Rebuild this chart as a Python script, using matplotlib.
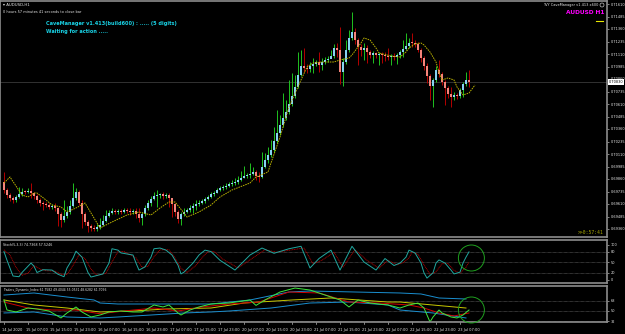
import matplotlib
matplotlib.use("Agg")
import matplotlib.pyplot as plt
from matplotlib.patches import Ellipse, Circle

# ---------------- data (AUDUSD H1) ----------------
first_open = 0.6983
closes = [0.6975,0.6970,0.6967,0.6965,0.6968,0.6971,0.6973,0.6973,0.6974,0.6972,
          0.6969,0.6965,0.6962,0.6961,0.6960,0.6958,0.6959,0.6957,0.6951,0.6945,
          0.6949,0.6953,0.6959,0.6967,0.6973,0.6962,0.6951,0.6943,0.6939,0.6937,
          0.6936,0.6938,0.6940,0.6944,0.6949,0.6952,0.6954,0.6953,0.6954,0.6953,
          0.6955,0.6954,0.6953,0.6954,0.6951,0.6947,0.6951,0.6957,0.6962,0.6966,
          0.6969,0.6970,0.6971,0.6969,0.6970,0.6967,0.6961,0.6953,0.6946,0.6951,
          0.6953,0.6955,0.6957,0.6959,0.6961,0.6962,0.6964,0.6966,0.6968,0.6971,
          0.6972,0.6975,0.6977,0.6978,0.6979,0.6981,0.6982,0.6983,0.6985,0.6987,
          0.6989,0.6990,0.6991,0.6993,0.6989,0.6988,0.6998,0.7005,0.7010,0.7015,
          0.7024,0.7032,0.7040,0.7047,0.7053,0.7061,0.7069,0.7078,0.7090,0.7099,
          0.7097,0.7096,0.7099,0.7101,0.7103,0.7100,0.7103,0.7105,0.7106,0.7109,
          0.7117,0.7115,0.7093,0.7103,0.7115,0.7127,0.7133,0.7125,0.7118,0.7115,
          0.7117,0.7113,0.7110,0.7112,0.7110,0.7111,0.7110,0.7109,0.7108,0.7109,
          0.7108,0.7110,0.7113,0.7116,0.7119,0.7122,0.7122,0.7121,0.7115,0.7107,
          0.7099,0.7089,0.7079,0.7085,0.7095,0.7091,0.7083,0.7077,0.7071,0.7068,
          0.7070,0.7069,0.7075,0.7081,0.7085,0.7083]
highs = [0.6993,0.6977,0.6972,0.6969,0.6970,0.6978,0.6977,0.6975,0.6977,0.6982,
         0.6973,0.6971,0.6967,0.6964,0.6963,0.6962,0.6961,0.6962,0.6958,0.6953,
         0.6965,0.6959,0.6965,0.6982,0.6977,0.6975,0.6965,0.6953,0.6945,0.6941,
         0.6940,0.6941,0.6947,0.6950,0.6955,0.6955,0.6957,0.6956,0.6956,0.6956,
         0.6957,0.6957,0.6957,0.6956,0.6957,0.6957,0.6953,0.6960,0.6965,0.6969,
         0.6973,0.6975,0.6972,0.6973,0.6972,0.6972,0.6965,0.6962,0.6955,0.6953,
         0.6957,0.6957,0.6960,0.6962,0.6965,0.6965,0.6966,0.6968,0.6970,0.6973,
         0.6974,0.6977,0.6979,0.6980,0.6982,0.6983,0.6985,0.6987,0.6989,0.6994,
         0.6999,0.6992,0.7002,0.6998,0.6995,0.6993,0.7013,0.7012,0.7018,0.7025,
         0.7038,0.7055,0.7050,0.7072,0.7065,0.7085,0.7092,0.7090,0.7113,0.7115,
         0.7117,0.7101,0.7103,0.7107,0.7105,0.7113,0.7107,0.7108,0.7109,0.7115,
         0.7121,0.7122,0.7138,0.7107,0.7125,0.7135,0.7153,0.7137,0.7127,0.7121,
         0.7122,0.7120,0.7115,0.7114,0.7113,0.7113,0.7113,0.7113,0.7117,0.7111,
         0.7112,0.7112,0.7115,0.7125,0.7132,0.7127,0.7132,0.7125,0.7123,0.7117,
         0.7109,0.7102,0.7091,0.7087,0.7099,0.7105,0.7093,0.7085,0.7079,0.7078,
         0.7073,0.7072,0.7077,0.7083,0.7093,0.7095]
lows = [0.6972,0.6967,0.6964,0.6962,0.6963,0.6967,0.6969,0.6971,0.6972,0.6967,
        0.6966,0.6962,0.6959,0.6955,0.6958,0.6956,0.6956,0.6954,0.6939,0.6938,
        0.6943,0.6947,0.6951,0.6958,0.6965,0.6960,0.6937,0.6940,0.6933,0.6934,
        0.6934,0.6934,0.6936,0.6939,0.6943,0.6948,0.6951,0.6951,0.6951,0.6951,
        0.6952,0.6952,0.6950,0.6951,0.6947,0.6943,0.6940,0.6949,0.6955,0.6959,
        0.6965,0.6958,0.6967,0.6966,0.6967,0.6958,0.6948,0.6949,0.6942,0.6940,
        0.6949,0.6952,0.6953,0.6952,0.6955,0.6959,0.6961,0.6962,0.6965,0.6967,
        0.6969,0.6972,0.6974,0.6975,0.6976,0.6978,0.6979,0.6980,0.6981,0.6984,
        0.6987,0.6987,0.6987,0.6990,0.6985,0.6983,0.6987,0.6997,0.7002,0.7008,
        0.7013,0.7022,0.7030,0.7038,0.7045,0.7051,0.7059,0.7067,0.7077,0.7089,
        0.7093,0.7092,0.7093,0.7092,0.7099,0.7093,0.7095,0.7101,0.7103,0.7107,
        0.7107,0.7108,0.7081,0.7079,0.7101,0.7113,0.7125,0.7121,0.7100,0.7109,
        0.7105,0.7102,0.7107,0.7102,0.7107,0.7100,0.7102,0.7104,0.7105,0.7100,
        0.7105,0.7101,0.7107,0.7108,0.7115,0.7117,0.7118,0.7118,0.7113,0.7103,
        0.7095,0.7082,0.7065,0.7058,0.7083,0.7088,0.7080,0.7060,0.7067,0.7058,
        0.7065,0.7066,0.7067,0.7068,0.7079,0.7078]

# moving average (shifted): bar index, value
ma_idx = [0,2,6,8,10,11,14,16,19,21,24,27,32,36,41,45,49,52,55,57,60,61,65,69,72,76,82,84,
          88,89,92,95,99,101,103,106,110,112,115,116,119,120,122,124,125,129,132,134,135,
          137,139,140,142,144,145,146,148,150,151,153,155,157]
ma_val = [0.6982,0.6988,0.6970,0.6968,0.6972,0.6972,0.6965,0.6960,0.6958,0.6953,0.6957,0.6962,
          0.6937,0.6943,0.6950,0.6953,0.6950,0.6957,0.6963,0.6963,0.6952,0.6948,0.6953,0.6960,
          0.6968,0.6975,0.6982,0.6988,0.6993,0.7002,0.7028,0.7058,0.7085,0.7098,0.7102,0.7103,
          0.7103,0.7105,0.7107,0.7110,0.7122,0.7127,0.7125,0.7117,0.7112,0.7109,0.7108,0.7113,
          0.7117,0.7121,0.7122,0.7120,0.7113,0.7103,0.7093,0.7085,0.7087,0.7085,0.7078,0.7070,
          0.7072,0.7080]

price_ticks = [0.71610,0.71485,0.71360,0.71235,0.71110,0.70985,0.70860,0.70735,0.70610,
               0.70485,0.70360,0.70235,0.70110,0.69985,0.69860,0.69735,0.69610,0.69485,0.69360]
current_price = 0.70830

# Stochastic(5,3,3)
st_idx = [0,1,3,5,6,9,10,11,13,16,18,20,21,23,24,26,28,29,33,35,36,38,39,43,44,45,47,49,50,
          52,54,56,58,59,60,63,65,67,69,72,77,82,86,90,95,99,102,105,109,112,116,120,124,127,
          130,132,134,135,137,139,140,141,143,144,145,147,149,150,152,153,154,155]
st_main = [80,55,10,8,20,47,38,20,28,27,15,8,33,61,81,64,20,7,16,47,88,84,76,70,47,27,36,64,
           88,90,84,70,41,16,21,47,70,84,80,55,27,70,90,75,88,95,33,60,84,27,95,50,27,60,40,47,
           64,84,76,47,19,4,19,47,56,47,27,16,21,47,64,79]
sg_idx = [0,2,4,6,8,10,12,14,17,19,21,23,25,27,29,31,34,36,38,40,44,46,48,50,52,55,57,59,61,
          64,66,68,70,73,78,83,87,91,96,100,103,106,110,113,117,121,125,128,131,133,135,136,
          138,140,142,144,146,148,150,152,154,155]
st_sig = [85,70,35,12,18,40,30,25,24,15,14,40,70,60,30,12,18,50,80,80,62,35,38,65,85,85,62,32,
          20,40,62,80,80,58,33,62,85,78,85,90,45,55,78,35,85,55,32,55,42,48,62,78,72,42,15,22,
          45,46,26,18,35,50]
st_levels = [80, 50, 20]

# Traders Dynamic Index
tdi_up_idx = [0,10,21,30,32,38,49,69,82,95,102,132,139,145,154]
tdi_up = [77.4,80.9,74.0,68.9,63.7,62.0,62.0,62.0,68.9,82.6,84.3,80.9,79.2,72.3,70.6]
tdi_lo_idx = [0,10,21,32,38,49,60,69,75,89,102,115,128,132,143,154]
tdi_lo = [46.6,48.3,39.7,38.0,39.7,43.1,46.6,48.3,50.0,55.1,63.7,65.4,60.3,51.7,46.6,38.0]
tdi_mid_idx = [0,10,21,32,43,54,69,80,96,109,128,132,154]
tdi_mid = [68.9,60.3,55.1,48.3,50.0,53.4,55.1,63.7,68.9,72.3,65.4,65.4,55.1]
tdi_g_idx = [0,1,4,8,11,15,19,21,24,26,29,32,35,39,43,46,50,53,55,58,59,62,65,69,75,82,84,87,
             92,97,102,107,112,115,118,122,128,132,135,138,140,142,143,145,146,149,151,153,155]
tdi_g = [68.9,51.7,48.3,55.1,53.4,50.0,38.0,46.6,56.9,48.3,39.7,43.1,48.3,50.0,48.3,48.3,60.3,
         56.9,60.3,46.6,43.1,51.7,56.9,62.0,63.7,68.9,59.6,68.9,82.6,89.4,86.0,77.4,68.9,56.9,
         68.9,63.7,60.3,55.1,60.3,63.7,55.1,31.1,39.7,51.7,46.6,39.7,38.0,43.1,51.7]
tdi_r_idx = [0,8,16,24,32,40,50,58,66,75,85,95,105,115,125,135,140,145,150,155]
tdi_r = [65.4,55.1,51.7,51.7,45.3,50.0,55.1,50.0,56.9,62.0,65.4,82.6,80.9,65.4,63.7,60.3,55.1,
         46.6,41.4,46.6]
tdi_levels = [68, 50, 32]

time_labels = ["14 Jul 2020","15 Jul 07:00","15 Jul 15:00","15 Jul 23:00","16 Jul 07:00",
               "16 Jul 15:00","16 Jul 23:00","17 Jul 07:00","17 Jul 15:00","17 Jul 23:00",
               "20 Jul 07:00","20 Jul 15:00","20 Jul 23:00","21 Jul 07:00","21 Jul 15:00",
               "21 Jul 23:00","22 Jul 07:00","22 Jul 15:00","22 Jul 23:00","23 Jul 07:00"]
time_label_idx = [0,8,16,24,32,40,48,56,64,72,80,88,96,104,112,120,128,136,144,152]

# ---------------- figure ----------------
W, H = 625, 334
fig = plt.figure(figsize=(W/100, H/100), dpi=100, facecolor="black")
BORDER = "#8c8c8c"
TXT = "#e8e8e8"
XMIN, XMAX = -1.33, 201.0

def pane(top, bottom):
    ax = fig.add_axes([0, (H-bottom)/H, 607/W, (bottom-top)/H])
    ax.set_facecolor("black")
    for s in ax.spines.values():
        s.set_color(BORDER)
        s.set_linewidth(1.2)
    ax.set_xlim(XMIN, XMAX)
    ax.yaxis.tick_right()
    ax.tick_params(axis="y", colors=TXT, labelsize=2.5, length=1.5, width=0.4, pad=1)
    ax.tick_params(axis="x", bottom=False, labelbottom=False)
    return ax

ax = pane(1, 237)
ax2 = pane(240, 283)
ax3 = pane(286, 322)

# ---- candles ----
n = len(closes)
opens = [first_open] + closes[:-1]
xs = list(range(n))
UP_BODY, DN_BODY = "#86d3f2", "#f5837a"
UP_WICK, DN_WICK = "#1fc21f", "#b40000"
for i in xs:
    o, c, h, l = opens[i], closes[i], highs[i], lows[i]
    up = c > o
    ax.vlines(i, l, h, color=UP_WICK if up else DN_WICK, linewidth=0.7, zorder=2)
for i in xs:
    o, c = opens[i], closes[i]
    up = c > o
    bot = min(o, c)
    hgt = max(abs(c - o), 0.00006)
    ax.bar(i, hgt, bottom=bot, width=0.85, color=UP_BODY if up else DN_BODY,
           edgecolor="none", zorder=3)

ax.plot(ma_idx, ma_val, color="#b8b000", lw=0.7, ls=(0, (1.6, 0.9)), zorder=4)
ax.axhline(current_price, color="#3a3a3a", lw=0.6, zorder=1)
ax.set_ylim(0.6928, 0.7164)
ax.set_yticks(price_ticks)
ax.set_yticklabels([f"{v:.5f}" for v in price_ticks])
ax.text(1.0 + 1.5/625, current_price, f"{current_price:.5f}", transform=ax.get_yaxis_transform(),
        fontsize=2.5, color="black", va="center", ha="left",
        bbox=dict(boxstyle="square,pad=0.15", fc="white", ec="white", lw=0))

# texts in main pane
ax.text(3/607, 1 - 4/236, "\u25BE AUDUSD,H1", transform=ax.transAxes, fontsize=2.8,
        color=TXT, va="center", ha="left")
ax.text(3/607, 1 - 11/236, "0 hours 57 minutes 41 seconds to close bar", transform=ax.transAxes,
        fontsize=2.5, color=TXT, va="center", ha="left")
ax.text(46/607, 1 - 22/236, "CaveManager v1.413(build600) : ..... (5 digits)",
        transform=ax.transAxes, fontsize=3.6, color="#19d3e6", fontweight="bold", va="center", ha="left")
ax.text(46/607, 1 - 30/236, "Waiting for action .....", transform=ax.transAxes, fontsize=3.6,
        color="#19d3e6", fontweight="bold", va="center", ha="left")
ax.text(598/607, 1 - 4/236, "TVY CaveManager v1.413 x600", transform=ax.transAxes,
        fontsize=2.5, color=TXT, va="center", ha="right")
ax.add_patch(Ellipse((602/607, 1 - 4/236), 4/607, 4/236, transform=ax.transAxes,
                     fill=False, ec=TXT, lw=0.4))
ax.text(604/607, 1 - 12/236, "AUDUSD H1", transform=ax.transAxes, fontsize=4.2, color="#ff00ff",
        fontweight="bold", va="center", ha="right")
ax.plot([596/607, 603/607], [1 - 20/236, 1 - 20/236], transform=ax.transAxes, color="#e8e800", lw=0.8)
ax.text(604/607, 1 - 231/236, ">>0:57:41", transform=ax.transAxes, fontsize=3.4,
        color="#a8a800", family="DejaVu Sans Mono", va="center", ha="right")

# ---- stochastic ----
for lv in st_levels:
    ax2.axhline(lv, color="#9a9a9a", lw=0.4, ls=(0, (1, 1.2)))
ax2.plot(sg_idx, st_sig, color="#c00000", lw=0.6, ls=(0, (1.2, 0.8)), zorder=3)
ax2.plot(st_idx, st_main, color="#20a8a0", lw=0.7, zorder=4)
ax2.set_ylim(-10, 113)
ax2.set_yticks([100, 80, 50, 20, 0])
ax2.set_yticklabels(["100", "80", "50", "20", "0"])
ax2.text(3/607, 1 - 4.5/43, "Stoch(5,3,3) 74.7368 57.5246", transform=ax2.transAxes,
         fontsize=2.3, color=TXT, va="center", ha="left")

# ---- TDI ----
for lv in tdi_levels:
    ax3.axhline(lv, color="#9a9a9a", lw=0.4, ls=(0, (1, 1.2)))
ax3.plot(tdi_up_idx, tdi_up, color="#1a8fd0", lw=0.7)
ax3.plot(tdi_lo_idx, tdi_lo, color="#1a8fd0", lw=0.7)
ax3.plot(tdi_mid_idx, tdi_mid, color="#c8c800", lw=0.7)
ax3.plot(tdi_r_idx, tdi_r, color="#d00000", lw=0.7)
ax3.plot(tdi_g_idx, tdi_g, color="#3ee83e", lw=0.7)
ax3.set_ylim(31.1, 92.9)
ax3.set_yticks([68, 50, 32])
ax3.set_yticklabels(["68", "50", "32"])
ax3.text(3/607, 1 - 4/36, "Traders_Dynamic_Index 61.7582 49.4044 55.0531 48.6282 61.7096",
         transform=ax3.transAxes, fontsize=2.2, color=TXT, va="center", ha="left")

# time axis
for idx, lab in zip(time_label_idx, time_labels):
    ax3.plot([idx, idx], [0, -0.06], transform=ax3.get_xaxis_transform(), color=TXT, lw=0.4,
             clip_on=False)
    ax3.text(idx - 0.5, -0.17, lab, transform=ax3.get_xaxis_transform(), fontsize=2.6, color=TXT,
             va="top", ha="left", clip_on=False)

# green circles around the latest values
for a, cy_frac, ph in ((ax2, 1 - 18/43, 43), (ax3, 1 - 24/36, 36)):
    trans = a.transData + a.transAxes.inverted()
    xc = trans.transform((155.8, 0))[0]
    a.add_patch(Ellipse((xc, cy_frac), width=26/607, height=26/ph, transform=a.transAxes,
                        fill=False, ec="#1fa01f", lw=0.7, clip_on=False, zorder=6))

fig.savefig("out.png", dpi=100, facecolor="black")
